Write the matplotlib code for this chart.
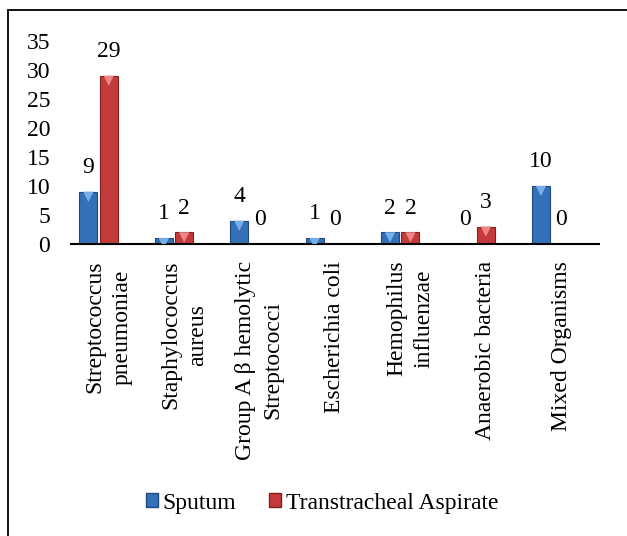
import numpy as np
import matplotlib.pyplot as plt
from matplotlib.patches import Rectangle
from matplotlib.transforms import ScaledTranslation

plt.rcParams['font.family'] = ['Liberation Serif', 'DejaVu Serif']

categories = ['Streptococcus\npneumoniae', 'Staphylococcus\naureus',
              'Group A \u03b2 hemolytic\nStreptococci', 'Escherichia coli',
              'Hemophilus\ninfluenzae', 'Anaerobic bacteria', 'Mixed Organisms']
sputum = [9, 1, 4, 1, 2, 0, 10]
aspirate = [29, 2, 0, 0, 2, 3, 0]
series_names = ['Sputum', 'Transtracheal Aspirate']

fig = plt.figure(figsize=(6.27, 5.36), dpi=100)
ax = fig.add_axes([71/627, 1-244/536, 528/627, 203/536])

# outer frame (runs off the right and bottom edge like the original)
fig.patches.append(Rectangle((8/627, -0.2), 1.2, 1.2 - 10/536,
                             transform=fig.transFigure, fill=False,
                             edgecolor='black', linewidth=1.3))

x = np.arange(len(categories))
w = 0.24
colors = [('#3470b8', '#1f4a7c', '#78aee8'), ('#c43a3a', '#7e2020', '#ec8585')]
offsets = [-0.27, 0.0]
bevel = ax.transData + ScaledTranslation(0, -3.6/72, fig.dpi_scale_trans)

for vals, off, (fc, ec, hi) in zip([sputum, aspirate], offsets, colors):
    ax.bar(x + off, vals, width=w, color=fc, edgecolor=ec, linewidth=0.8)
    # small bevel triangle at the top of each bar
    tops = [(xi + off, v) for xi, v in zip(x, vals) if v > 0]
    tx, ty = zip(*tops)
    ax.scatter(tx, ty, marker='v', s=55, color=hi, edgecolors='none',
               zorder=3, transform=bevel)
    for xi, v in zip(x, vals):
        ax.annotate(str(v), (xi + off, v), xytext=(0, 17.5),
                    textcoords='offset points', ha='center', va='center',
                    fontsize=17, annotation_clip=False)

ax.set_xlim(-0.5, len(categories) - 0.5)
ax.set_ylim(0, 35)
ax.set_yticks(range(0, 36, 5))
ax.set_xticks(x)
ax.set_xticklabels(categories, rotation=90, ha='center', va='top',
                   multialignment='center', fontsize=17, linespacing=1.4)
ax.tick_params(axis='both', length=0)
ax.tick_params(axis='y', pad=15, labelsize=17)
ax.tick_params(axis='x', pad=12)
for s in ['top', 'right', 'left']:
    ax.spines[s].set_visible(False)
ax.spines['bottom'].set_linewidth(1.5)

handles = [Rectangle((0, 0), 1, 1, facecolor=c[0], edgecolor=c[1]) for c in colors]
fig.legend(handles, series_names, loc='center', bbox_to_anchor=(322/627, 1-503/536),
           ncol=2, frameon=False, fontsize=17, handlelength=0.5, handleheight=0.5,
           handletextpad=0.2, columnspacing=1.4)

fig.savefig('out.png', dpi=100)
